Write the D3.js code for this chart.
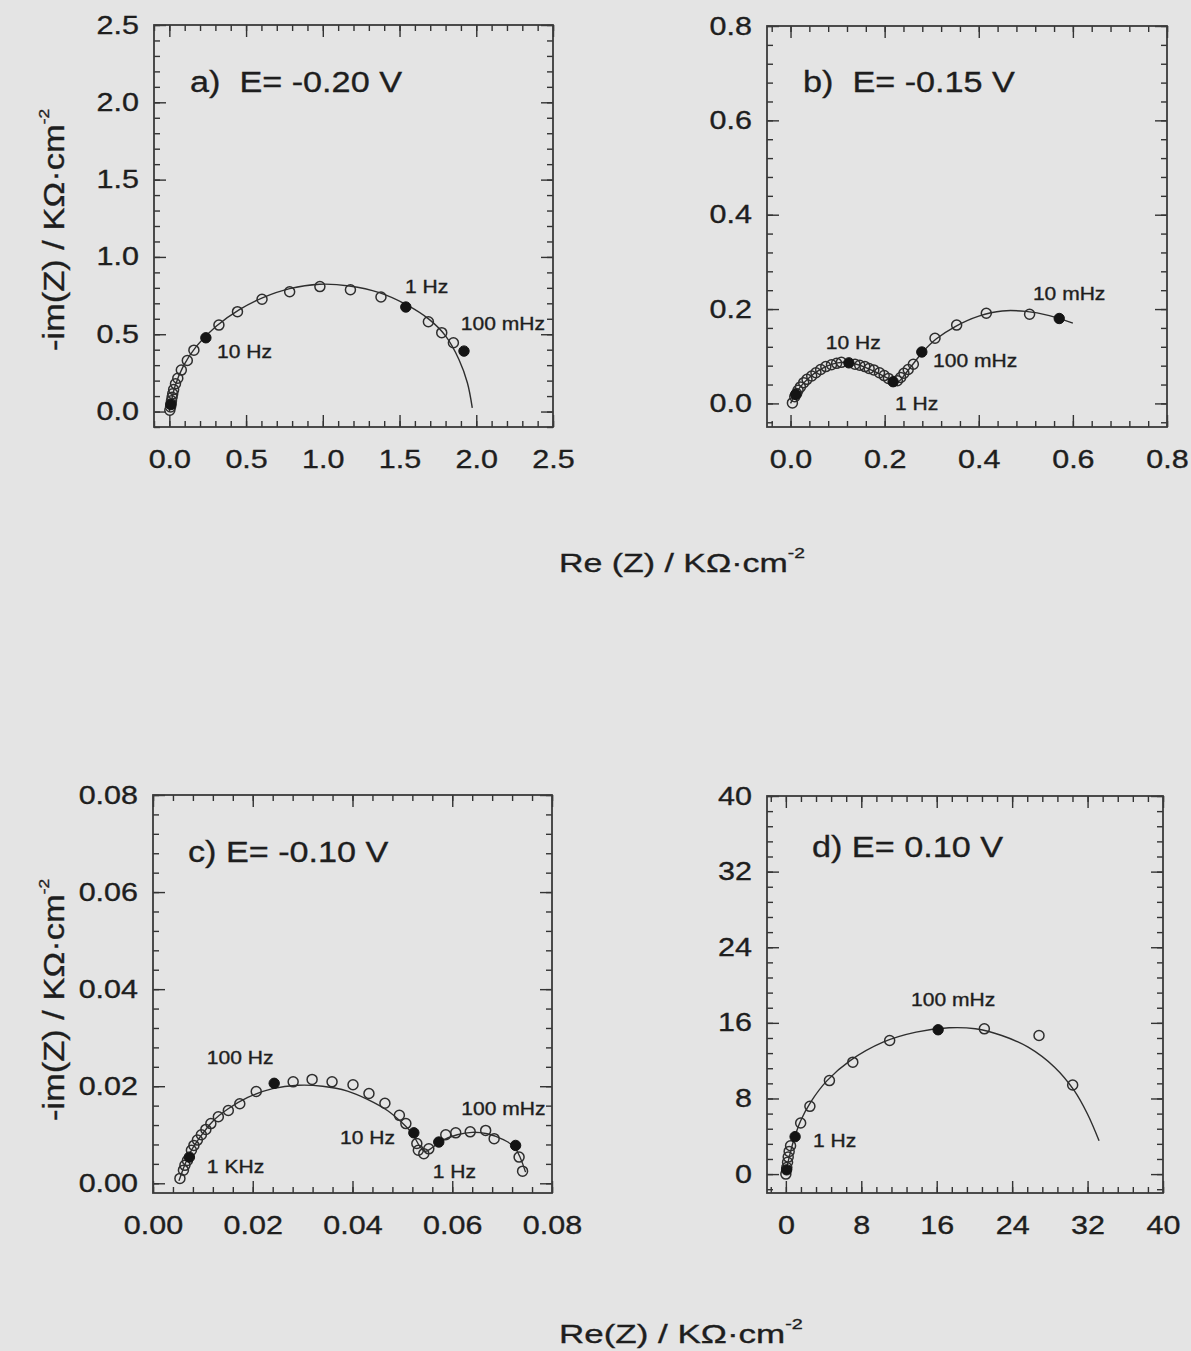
<!DOCTYPE html>
<html>
<head>
<meta charset="utf-8">
<script src="https://cdnjs.cloudflare.com/ajax/libs/d3/7.8.5/d3.min.js"></script>
<style>
body { margin: 0; background: #e4e4e4; }
svg { display: block; font-family: "Liberation Sans", Arial, sans-serif; }
svg text { stroke: #1e1e1e; stroke-width: 0.35px; }
.axis path { display: none; }
.axis line { stroke: #333; stroke-width: 1.4px; }
.axis text { fill: #1e1e1e; font-size: 25px; font-family: "Liberation Sans", Arial, sans-serif; }
</style>
</head>
<body>
<div id="chart"></div>
<script>
var width = 1191,
    height = 1351,
    ink = '#1e1e1e';

// Tick labels
var aTicks = [0, 0.5, 1.0, 1.5, 2.0, 2.5],
    bTicks = [0, 0.2, 0.4, 0.6, 0.8],
    cTicks = [0, 0.02, 0.04, 0.06, 0.08],
    dTicks = [0, 8, 16, 24, 32, 40];

// Panel a) E = -0.20 V  [Re, -Im] in KOhm.cm-2
var aOpen = [[0.003,0.008],[0.008,0.030],[0.011,0.050],[0.014,0.070],[0.018,0.092],[0.022,0.115],
    [0.028,0.142],[0.040,0.180],[0.055,0.215],[0.078,0.268],[0.117,0.330],[0.160,0.397],[0.323,0.559],
    [0.444,0.646],[0.604,0.726],[0.784,0.775],[0.981,0.808],[1.180,0.788],[1.379,0.741],[1.688,0.581],
    [1.775,0.510],[1.851,0.445]];
var aFilled = [[0.010,0.045],[0.238,0.477],[1.541,0.676],[1.920,0.391]];
var aFit = [[0.000,0.000],[0.009,0.045],[0.037,0.164],[0.091,0.294],[0.177,0.423],[0.307,0.553],
    [0.459,0.661],[0.610,0.737],[0.784,0.795],[0.978,0.823],[1.173,0.812],[1.368,0.769],[1.541,0.693],
    [1.693,0.596],[1.801,0.488],[1.887,0.337],[1.942,0.186],[1.974,0.024]];
var aNotes = [['1 Hz',1.536,0.769],['100 mHz',1.899,0.527],['10 Hz',0.311,0.346]];

// Panel b) E = -0.15 V
var bOpen = [[0.004,0.001],[0.009,0.014],[0.013,0.021],[0.016,0.028],[0.021,0.035],[0.028,0.044],
    [0.035,0.051],[0.045,0.058],[0.054,0.065],[0.064,0.072],[0.075,0.078],[0.087,0.082],[0.098,0.085],
    [0.108,0.087],[0.137,0.083],[0.147,0.081],[0.158,0.078],[0.167,0.074],[0.177,0.071],[0.189,0.065],
    [0.199,0.059],[0.208,0.053],[0.227,0.048],[0.234,0.055],[0.241,0.064],[0.250,0.072],[0.261,0.083],
    [0.307,0.138],[0.353,0.166],[0.416,0.191],[0.508,0.189]];
var bFilled = [[0.011,0.019],[0.124,0.086],[0.218,0.046],[0.279,0.109],[0.571,0.180]];
var bFit = [[0.000,0.000],[0.008,0.015],[0.020,0.034],[0.040,0.055],[0.060,0.070],[0.080,0.080],
    [0.100,0.086],[0.120,0.087],[0.140,0.083],[0.160,0.076],[0.180,0.067],[0.200,0.057],[0.215,0.049],
    [0.225,0.045],[0.232,0.048],[0.245,0.064],[0.260,0.083],[0.280,0.108],[0.310,0.137],[0.350,0.163],
    [0.400,0.185],[0.450,0.196],[0.500,0.195],[0.550,0.186],[0.600,0.170]];
var bNotes = [['10 mHz',0.515,0.219],['10 Hz',0.075,0.115],['100 mHz',0.303,0.077],['1 Hz',0.222,-0.014]];

// Panel c) E = -0.10 V
var cOpen = [[0.0054,0.0010],[0.0061,0.0027],[0.0064,0.0037],[0.0069,0.0047],[0.0077,0.0068],
    [0.0082,0.0078],[0.0089,0.0089],[0.0097,0.0100],[0.0106,0.0111],[0.0116,0.0123],[0.0131,0.0137],
    [0.0151,0.0150],[0.0174,0.0164],[0.0207,0.0189],[0.0281,0.0209],[0.0319,0.0214],[0.0359,0.0209],
    [0.0401,0.0203],[0.0433,0.0185],[0.0465,0.0165],[0.0494,0.0140],[0.0507,0.0123],[0.0529,0.0082],
    [0.0532,0.0068],[0.0543,0.0061],[0.0553,0.0071],[0.0587,0.0100],[0.0607,0.0104],[0.0636,0.0106],
    [0.0667,0.0109],[0.0684,0.0092],[0.0734,0.0054],[0.0741,0.0025]];
var cFilled = [[0.0073,0.0054],[0.0243,0.0206],[0.0523,0.0104],[0.0573,0.0085],[0.0727,0.0078]];
var cFit = [[0.0052,0.0005],[0.0060,0.0028],[0.0075,0.0064],[0.0095,0.0096],[0.0120,0.0128],
    [0.0150,0.0153],[0.0190,0.0177],[0.0240,0.0195],[0.0290,0.0202],[0.0340,0.0200],[0.0390,0.0190],
    [0.0430,0.0173],[0.0470,0.0150],[0.0500,0.0124],[0.0520,0.0102],[0.0535,0.0076],[0.0545,0.0066],
    [0.0555,0.0070],[0.0580,0.0088],[0.0610,0.0100],[0.0640,0.0105],[0.0670,0.0102],[0.0700,0.0091],
    [0.0725,0.0074],[0.0747,0.0023]];
var cNotes = [['100 Hz',0.0108,0.0246],['100 mHz',0.0618,0.0141],['10 Hz',0.0375,0.0081],
    ['1 KHz',0.0108,0.0021],['1 Hz',0.0561,0.0011]];

// Panel d) E = 0.10 V
var dOpen = [[0.00,0.00],[0.10,0.70],[0.18,1.25],[0.25,1.80],[0.35,2.40],[0.50,3.00],[1.57,5.41],
    [2.55,7.17],[4.62,9.89],[7.10,11.84],[11.01,14.13],[21.05,15.37],[26.85,14.66],[30.42,9.43]];
var dFilled = [[0.08,0.45],[0.98,3.96],[16.15,15.27]];
var dFit = [[0.00,0.18],[0.35,1.77],[0.87,3.71],[1.57,5.65],[2.62,7.60],[4.37,9.89],[6.82,12.01],
    [10.31,13.96],[13.81,15.02],[17.31,15.48],[20.10,15.37],[22.90,14.66],[25.70,13.43],[28.50,11.31],
    [30.59,8.83],[31.99,6.36],[33.22,3.53]];
var dNotes = [['100 mHz',13.27,17.78],['1 Hz',2.88,2.87]];

var panels = [
    {title: 'a)  E= -0.20 V', tpos: [0.135, 2.067], box: [154, 25, 399, 402],
     xd: [-0.1, 2.5], yd: [-0.1, 2.5], ticks: aTicks, step: 0.1, fmt: d3.format('.1f'),
     open: aOpen, filled: aFilled, fit: aFit, notes: aNotes},
    {title: 'b)  E= -0.15 V', tpos: [0.0265, 0.660], box: [767, 26, 400, 401],
     xd: [-0.05, 0.8], yd: [-0.05, 0.8], ticks: bTicks, step: 0.04, fmt: d3.format('.1f'),
     open: bOpen, filled: bFilled, fit: bFit, notes: bNotes},
    {title: 'c) E= -0.10 V', tpos: [0.0070, 0.0662], box: [153, 795, 399, 398],
     xd: [0, 0.08], yd: [-0.002, 0.08], ticks: cTicks, step: 0.004, fmt: d3.format('.2f'),
     open: cOpen, filled: cFilled, fit: cFit, notes: cNotes},
    {title: 'd) E= 0.10 V', tpos: [2.77, 33.55], box: [767, 796, 396, 397],
     xd: [-2, 40], yd: [-2, 40], ticks: dTicks, step: 1.6, fmt: d3.format('d'),
     open: dOpen, filled: dFilled, fit: dFit, notes: dNotes}
];

var svg = d3.select('#chart')
    .append('svg')
    .attr('width', width)
    .attr('height', height);

// Text helper: the original lettering is wider than Arial
function stretched(g, x, y, str, size, sx, anchor) {
    return g.append('text')
        .attr('transform', 'translate(' + x + ',' + y + ') scale(' + sx + ',1)')
        .attr('text-anchor', anchor || 'start')
        .style('font-size', size + 'px')
        .style('white-space', 'pre')
        .attr('fill', ink)
        .text(str);
}

function minorTicks(domain, step) {
    return d3.range(Math.ceil(domain[0] / step - 1e-9), Math.floor(domain[1] / step + 1e-9) + 1)
        .map(function(i) { return i * step; });
}

var tickSx = 1.22;

panels.forEach(function(p) {
    var w = p.box[2], h = p.box[3];
    var g = svg.append('g')
        .attr('transform', 'translate(' + p.box[0] + ',' + p.box[1] + ')');

    var x = d3.scaleLinear().domain(p.xd).range([0, w]),
        y = d3.scaleLinear().domain(p.yd).range([h, 0]);

    var minX = minorTicks(p.xd, p.step),
        minY = minorTicks(p.yd, p.step);

    // minor ticks, all four sides, inward
    g.append('g').attr('class', 'axis').attr('transform', 'translate(0,' + h + ')')
        .call(d3.axisBottom(x).tickValues(minX).tickSize(-6).tickFormat(''));
    g.append('g').attr('class', 'axis')
        .call(d3.axisTop(x).tickValues(minX).tickSize(-6).tickFormat(''));
    g.append('g').attr('class', 'axis')
        .call(d3.axisLeft(y).tickValues(minY).tickSize(-6).tickFormat(''));
    g.append('g').attr('class', 'axis').attr('transform', 'translate(' + w + ',0)')
        .call(d3.axisRight(y).tickValues(minY).tickSize(-6).tickFormat(''));

    // major ticks
    g.append('g').attr('class', 'axis').attr('transform', 'translate(0,' + h + ')')
        .call(d3.axisBottom(x).tickValues(p.ticks).tickSize(-12).tickPadding(23).tickFormat(p.fmt))
        .selectAll('text').attr('transform', 'scale(' + tickSx + ',1)');
    g.append('g').attr('class', 'axis')
        .call(d3.axisTop(x).tickValues(p.ticks).tickSize(-12).tickFormat(''));
    g.append('g').attr('class', 'axis')
        .call(d3.axisLeft(y).tickValues(p.ticks).tickSize(-12).tickPadding(15 / tickSx).tickFormat(p.fmt))
        .selectAll('text').attr('transform', 'scale(' + tickSx + ',1)');
    g.append('g').attr('class', 'axis').attr('transform', 'translate(' + w + ',0)')
        .call(d3.axisRight(y).tickValues(p.ticks).tickSize(-12).tickFormat(''));

    // frame
    g.append('rect')
        .attr('width', w)
        .attr('height', h)
        .attr('fill', 'none')
        .attr('stroke', '#3a3a3a')
        .attr('stroke-width', 1.8);

    // fitted curve
    var line = d3.line()
        .curve(d3.curveCatmullRom)
        .x(function(d) { return x(d[0]); })
        .y(function(d) { return y(d[1]); });

    g.append('path')
        .datum(p.fit)
        .attr('d', line)
        .attr('fill', 'none')
        .attr('stroke', '#2e2e2e')
        .attr('stroke-width', 1.4);

    g.selectAll('.open')
        .data(p.open)
        .enter()
        .append('circle')
        .attr('class', 'open')
        .attr('cx', function(d) { return x(d[0]); })
        .attr('cy', function(d) { return y(d[1]); })
        .attr('r', 5)
        .attr('fill', 'none')
        .attr('stroke', '#2e2e2e')
        .attr('stroke-width', 1.5);

    g.selectAll('.filled')
        .data(p.filled)
        .enter()
        .append('circle')
        .attr('class', 'filled')
        .attr('cx', function(d) { return x(d[0]); })
        .attr('cy', function(d) { return y(d[1]); })
        .attr('r', 5.2)
        .attr('fill', '#141414')
        .attr('stroke', '#141414')
        .attr('stroke-width', 1);

    // labels
    stretched(g, x(p.tpos[0]), y(p.tpos[1]), p.title, 30, 1.14);
    p.notes.forEach(function(n) {
        stretched(g, x(n[1]), y(n[2]), n[0], 18, 1.17);
    });
});

// Axis titles
function unitTitle(x, y, lead, sx, rotate) {
    var t = svg.append('text')
        .attr('transform', 'translate(' + x + ',' + y + ')' + (rotate ? ' rotate(-90)' : '') + ' scale(' + sx + ',1)')
        .attr('text-anchor', rotate ? 'middle' : 'start')
        .attr('fill', ink)
        .style('font-size', (rotate ? 30 : 26.5) + 'px')
        .style('white-space', 'pre');
    t.append('tspan').text(lead + ' / K\u03A9\u00B7cm');
    t.append('tspan').attr('dy', rotate ? -15 : -14).style('font-size', '15px').text('-2');
    return t;
}

unitTitle(559, 572, 'Re (Z)', 1.28, false);
unitTitle(559, 1343, 'Re(Z)', 1.32, false);
unitTitle(64, 230, '-im(Z)', 1.15, true);
unitTitle(64, 1000, '-im(Z)', 1.15, true);
</script>
</body>
</html>
